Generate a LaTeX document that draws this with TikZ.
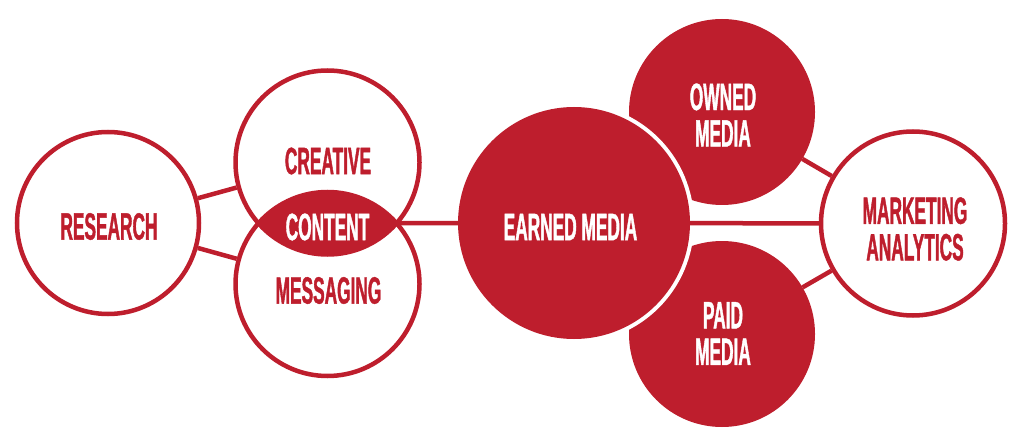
\documentclass[tikz,border=0pt]{standalone}
\usepackage{fontspec}
\newfontfamily\lblfont{Liberation Sans}[FakeStretch=0.455,FakeBold=1]
\definecolor{brandred}{RGB}{190,30,45}
\pgfdeclarelayer{back}
\pgfdeclarelayer{gap}
\pgfdeclarelayer{mid}
\pgfsetlayers{back,gap,mid,main}
\begin{document}
\begin{tikzpicture}[x=1pt,y=-1pt,
  ring/.style={circle,draw=brandred,line width=4.5pt,inner sep=0pt},
  disc/.style={circle,fill=brandred,inner sep=0pt,outer sep=0pt},
  link/.style={draw=brandred,line width=4.5pt},
  lbl/.style={font=\lblfont\bfseries\fontsize{38}{36.5}\selectfont,align=center,inner sep=0pt},
  redlbl/.style={lbl,text=brandred},
  whitelbl/.style={lbl,text=white}
]
\useasboundingbox (0,0) rectangle (1024,446);
% filled circles
\begin{pgfonlayer}{back}
\node[disc,minimum size=186pt] (owned) at (722,112) {};
\node[disc,minimum size=186pt] (paid) at (722,334) {};
\end{pgfonlayer}
\node[disc,minimum size=232pt] (earned) at (574,223) {};
\begin{pgfonlayer}{gap}
\fill[white] (earned.center) circle[radius=120pt];
\end{pgfonlayer}
% outlined circles
\node[ring,minimum size=182pt] (research) at (108,223) {};
\node[ring,minimum size=184pt] (creative) at (327.5,162.5) {};
\node[ring,minimum size=184pt] (messaging) at (327.5,284) {};
\node[ring,minimum size=184pt] (analytics) at (913,223.5) {};
% content lens
\begin{scope}
\clip (creative.center) circle[radius=92pt];
\fill[brandred] (messaging.center) circle[radius=92pt];
\end{scope}
\coordinate (tip) at (396.6,223.25);
% connectors
\begin{pgfonlayer}{mid}
\draw[link] (research) -- (creative);
\draw[link] (research) -- (messaging);
\draw[link] (tip) -- (earned);
\draw[link] (earned) -- (analytics);
\draw[link] (owned) -- (analytics);
\draw[link] (paid) -- (analytics);
\end{pgfonlayer}
% labels
\node[redlbl] (researchtxt) at (109,226.5) {RESEARCH};
\node[redlbl] (creativetxt) at (328,161) {CREATIVE};
\node[whitelbl] (contenttxt) at (327.5,227) {CONTENT};
\node[redlbl] (messagingtxt) at (328.5,290.5) {MESSAGING};
\node[whitelbl] (earnedtxt) at (570.5,227) {EARNED MEDIA};
\node[whitelbl] (ownedtxt) at (723,115) {OWNED\\MEDIA};
\node[whitelbl] (paidtxt) at (723,333.5) {PAID\\MEDIA};
\node[redlbl] (analyticstxt) at (915,229) {MARKETING\\ANALYTICS};
\end{tikzpicture}
\end{document}
